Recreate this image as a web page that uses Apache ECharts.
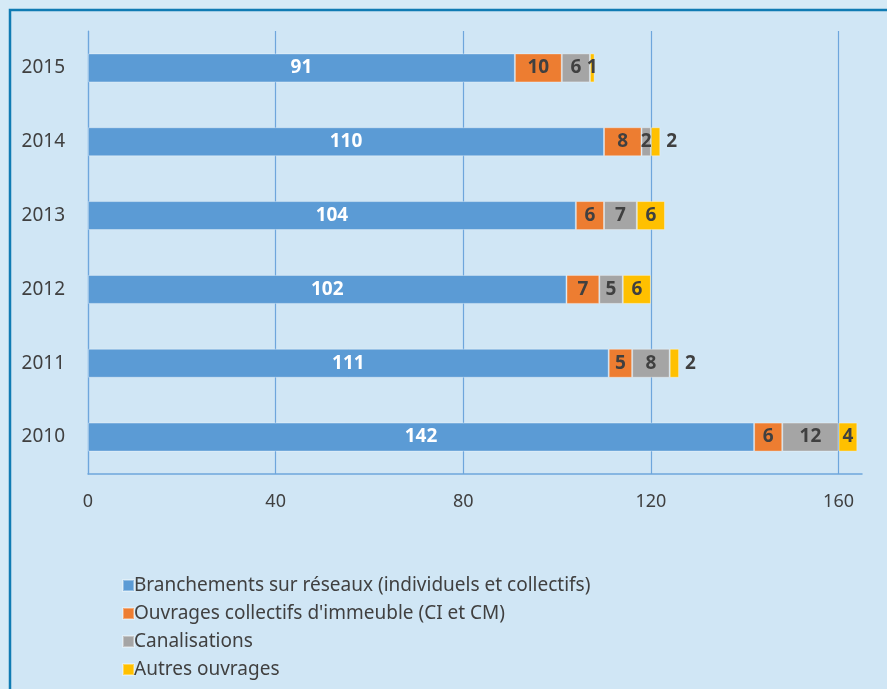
<!DOCTYPE html>
<html>
<head>
<meta charset="utf-8">
<script src="https://cdn.jsdelivr.net/npm/echarts@6/dist/echarts.min.js"></script>
<style>
html, body { margin: 0; padding: 0; background: #d5eaf6; }
#main { width: 887px; height: 689px; }
</style>
</head>
<body>
<div id="main"></div>
<script>
// années, de bas en haut
const years = ['2010', '2011', '2012', '2013', '2014', '2015'];
const branchements = [142, 111, 102, 104, 110, 91];
const ouvragesCollectifs = [6, 5, 7, 6, 8, 10];
const canalisations = [12, 8, 5, 7, 2, 6];
const autresOuvrages = [4, 2, 6, 6, 2, 1];
const seriesNames = [
    'Branchements sur réseaux (individuels et collectifs)',
    "Ouvrages collectifs d'immeuble (CI et CM)",
    'Canalisations',
    'Autres ouvrages'
];

const colors = ['#5b9bd5', '#ed7d31', '#a5a5a5', '#ffc000'];
const font = '"Noto Sans", sans-serif';

// petites valeurs dont l'étiquette sort à droite de la barre
const labelOutside = ['2014', '2011'];

function makeSeries(name, values, idx) {
    return {
        name: name,
        type: 'bar',
        stack: 'total',
        barWidth: 29,
        itemStyle: { color: colors[idx], borderColor: 'rgba(255,255,255,0.35)', borderWidth: 1 },
        label: {
            show: true,
            position: 'inside',
            color: idx === 0 ? '#ffffff' : '#404040',
            fontWeight: 'bold',
            fontSize: 19,
            fontFamily: font
        },
        data: values.map((v, i) => {
            if (idx === 3 && labelOutside.includes(years[i])) {
                return { value: v, label: { position: 'right', distance: 6 } };
            }
            return v;
        })
    };
}

let chart = echarts.init(document.getElementById('main'));

chart.setOption({
    animation: false,
    backgroundColor: '#d5eaf6',
    color: colors,
    graphic: [{
        type: 'rect',
        shape: { x: 10, y: 10, width: 900, height: 700 },
        style: { fill: '#d0e6f5', stroke: '#0f7bb3', lineWidth: 2.5 },
        z: -10
    }],
    grid: {
        left: 88,
        right: 25,
        top: 31,
        bottom: 215
    },
    xAxis: {
        type: 'value',
        min: 0,
        max: 165,
        interval: 40,
        axisLine: { show: true, lineStyle: { color: '#6ea6dc', width: 1.5 } },
        axisTick: { show: false },
        axisLabel: {
            showMaxLabel: false,
            color: '#404040',
            fontSize: 18,
            fontFamily: font,
            margin: 19
        },
        splitLine: {
            show: true,
            showMaxLine: false,
            lineStyle: { color: '#6ea6dc', width: 1.2 }
        }
    },
    yAxis: {
        type: 'category',
        data: years,
        axisLine: { show: true, lineStyle: { color: '#6ea6dc', width: 1.2 } },
        axisTick: { show: false },
        axisLabel: {
            color: '#404040',
            fontSize: 19,
            fontFamily: font,
            margin: 23
        }
    },
    legend: {
        orient: 'vertical',
        left: 117,
        top: 571,
        height: 140,
        itemWidth: 11,
        itemHeight: 11,
        itemGap: 9,
        icon: 'rect',
        data: seriesNames,
        textStyle: { color: '#404040', fontSize: 19, lineHeight: 17, fontFamily: font, padding: [0, 0, 0, -5] }
    },
    series: [
        makeSeries(seriesNames[0], branchements, 0),
        makeSeries(seriesNames[1], ouvragesCollectifs, 1),
        makeSeries(seriesNames[2], canalisations, 2),
        makeSeries(seriesNames[3], autresOuvrages, 3)
    ]
});
</script>
</body>
</html>
